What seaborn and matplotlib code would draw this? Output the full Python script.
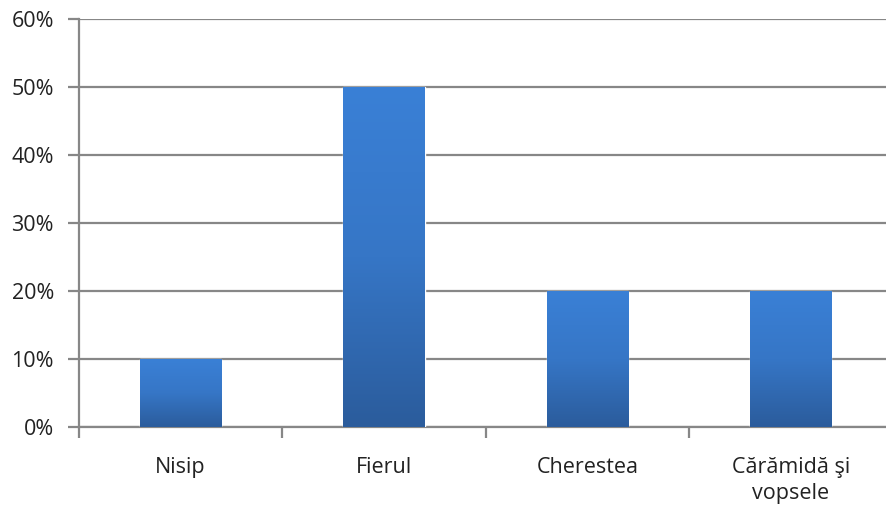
import numpy as np
import pandas as pd
import matplotlib
matplotlib.use("Agg")
import matplotlib.pyplot as plt
from matplotlib.colors import LinearSegmentedColormap
from matplotlib.ticker import PercentFormatter
import seaborn as sns

# Data
categories = ["Nisip", "Fierul", "Cherestea", "Cărămidă şi\nvopsele"]
shares = [10, 50, 20, 20]

df = pd.DataFrame({"cat": categories, "share": shares})

sns.set_style("white")
plt.rcParams["font.family"] = ["Open Sans", "DejaVu Sans"]

fig = plt.figure(figsize=(8.87, 5.05), dpi=100)
ax = fig.add_axes([0.089, 0.155, 0.917, 0.807])

sns.barplot(data=df, x="cat", y="share", color="#3a7dd0", width=0.4, ax=ax, zorder=3)

# Excel-like vertical gradient on each bar
grad_cmap = LinearSegmentedColormap.from_list("g", ["#2b5c9c", "#3676c6", "#3a80d6"])
grad = np.linspace(0, 1, 256).reshape(-1, 1)
for p in ax.patches:
    x0, y0 = p.get_x(), p.get_y()
    w, h = p.get_width(), p.get_height()
    im = ax.imshow(grad, cmap=grad_cmap, origin="lower", aspect="auto",
                   extent=[x0, x0 + w, y0, y0 + h], zorder=4)
    im.set_clip_path(p)

ax.set_xlim(-0.5, 3.5)
ax.set_ylim(0, 60)
ax.set_yticks(range(0, 61, 10))
ax.yaxis.set_major_formatter(PercentFormatter(decimals=0))
ax.grid(axis="y", color="#878787", linewidth=1.6, zorder=1)
ax.set_axisbelow(True)

ax.set_xlabel("")
ax.set_ylabel("")

for s in ["top", "right"]:
    ax.spines[s].set_visible(False)
for s in ["left", "bottom"]:
    ax.spines[s].set_color("#878787")
    ax.spines[s].set_linewidth(1.6)

ax.tick_params(axis="y", length=8, width=1.6, color="#878787", labelsize=15.5,
               labelcolor="#222222", pad=10, left=True)
ax.tick_params(axis="x", which="major", length=0, labelsize=15.5,
               labelcolor="#222222", pad=22)
for lbl in ax.get_xticklabels():
    lbl.set_linespacing(1.3)
ax.set_xticks(np.arange(-0.5, 3.6, 1.0), minor=True)
ax.tick_params(axis="x", which="minor", length=8, width=1.6, color="#878787",
               bottom=True)

fig.savefig("out.png", dpi=100)
